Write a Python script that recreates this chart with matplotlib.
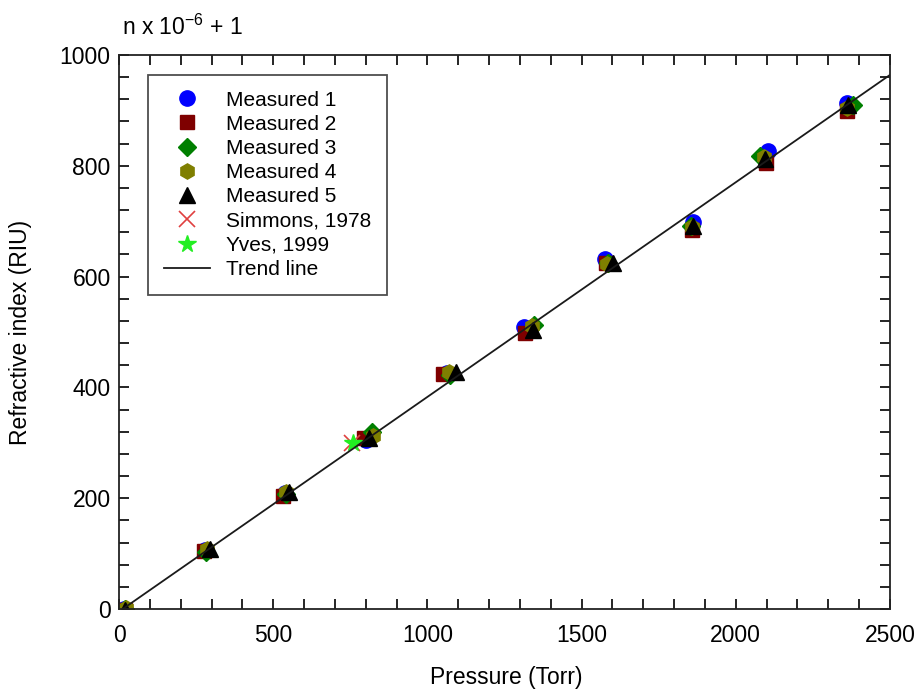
import matplotlib
matplotlib.use("Agg")
import matplotlib.pyplot as plt
from matplotlib.ticker import MultipleLocator

plt.rcParams['font.family'] = ['Liberation Sans', 'DejaVu Sans']

# Data (pressure in Torr, refractivity (n-1)x1e6)
m1_p = [15, 278, 538, 800, 1062, 1312, 1576, 1860, 2104, 2360]
m1_n = [0, 106, 210, 305, 426, 509, 632, 698, 826, 914]
m2_p = [18, 275, 533, 795, 1052, 1315, 1580, 1858, 2098, 2362]
m2_n = [-2, 104, 204, 308, 425, 498, 625, 684, 805, 898]
m3_p = [20, 282, 540, 822, 1073, 1346, 1585, 1855, 2080, 2380]
m3_n = [0, 102, 208, 320, 423, 513, 624, 692, 818, 909]
m4_p = [22, 285, 542, 825, 1070, 1340, 1582, 1857, 2092, 2362]
m4_n = [1, 108, 212, 313, 428, 510, 622, 690, 815, 904]
m5_p = [20, 296, 550, 812, 1092, 1342, 1602, 1862, 2094, 2364]
m5_n = [-1, 109, 212, 308, 428, 503, 625, 691, 813, 909]
sim_p = [755]
sim_n = [299]
yves_p = [760]
yves_n = [300]
trend_p = [12, 2500]
trend_n = [0, 964]

fig = plt.figure(figsize=(9.19, 6.89), dpi=100)
ax = fig.add_axes([0.1295, 0.1161, 0.8389, 0.8041])

ms = 11
ax.plot(m1_p, m1_n, 'o', color='#0000ff', ms=ms, ls='none', label='Measured 1')
ax.plot(m2_p, m2_n, 's', color='#7f0000', ms=ms - 1, ls='none', label='Measured 2')
ax.plot(m3_p, m3_n, 'D', color='#007f00', ms=ms - 2, ls='none', label='Measured 3')
ax.plot(m4_p, m4_n, 'h', color='#7f7f00', ms=ms, ls='none', label='Measured 4')
ax.plot(m5_p, m5_n, '^', color='#000000', ms=ms, ls='none', label='Measured 5')
ax.plot(sim_p, sim_n, 'x', color='#e04040', ms=ms, mew=1.2, ls='none', label='Simmons, 1978')
ax.plot(yves_p, yves_n, '*', color='#22ee22', ms=ms + 2, ls='none', label='Yves, 1999')
ax.plot(trend_p, trend_n, '-', color='#1a1a1a', lw=1.3, label='Trend line')

ax.set_xlim(0, 2500)
ax.set_ylim(0, 1000)
ax.xaxis.set_major_locator(MultipleLocator(500))
ax.xaxis.set_minor_locator(MultipleLocator(100))
ax.yaxis.set_major_locator(MultipleLocator(200))
ax.yaxis.set_minor_locator(MultipleLocator(40))
ax.tick_params(which='both', direction='in', top=True, right=True, labelsize=16.5, width=1.2)
ax.tick_params(which='both', length=7)
ax.tick_params(axis='y', which='major', pad=6)
ax.tick_params(axis='x', which='major', pad=11)
for s in ax.spines.values():
    s.set_linewidth(1.3)
    s.set_color('#222222')

ax.set_xlabel('Pressure (Torr)', fontsize=16.5)
ax.set_ylabel('Refractive index (RIU)', fontsize=16.5)
ax.xaxis.set_label_coords(0.502, -0.103)
ax.yaxis.set_label_coords(-0.113, 0.5)
fig.text(0.133, 0.961, r'n x 10$^{\mathregular{-6}}$ + 1', fontsize=16.5, ha='left', va='center')

leg = ax.legend(loc='upper left', bbox_to_anchor=(0.0376, 0.964), borderaxespad=0,
                fontsize=15, frameon=True, fancybox=False, edgecolor='#222222',
                borderpad=0.75, labelspacing=0.25, handlelength=2.25,
                handletextpad=0.75, markerscale=1.0)
leg.get_frame().set_linewidth(1.3)

fig.savefig('out.png', dpi=100)
